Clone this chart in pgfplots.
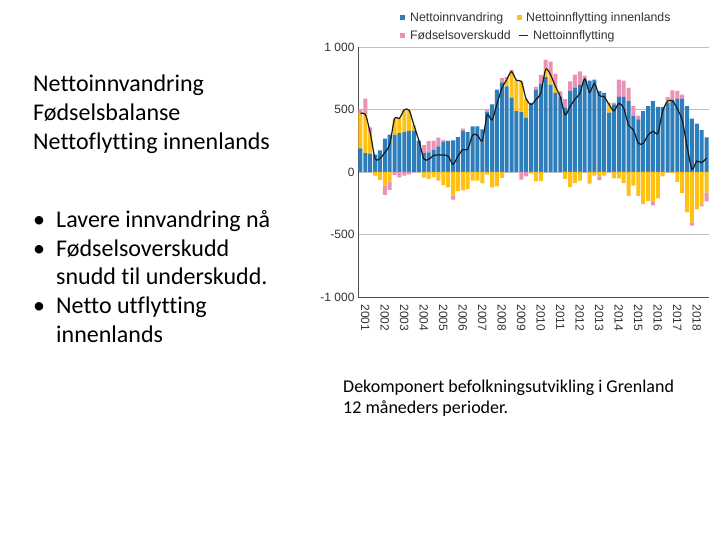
\documentclass[border=0pt]{standalone}
\usepackage{pgfplots}
\pgfplotsset{compat=1.18}
\usepackage{pgfplotstable}
\usepackage{fontspec}
\setmainfont{Carlito}[Ligatures=NoCommon]
\newfontfamily\chartfont{Liberation Sans}
\definecolor{cblue}{RGB}{46,126,188}
\definecolor{cyellow}{RGB}{255,194,20}
\definecolor{cpink}{RGB}{234,146,182}
\definecolor{cgrid}{RGB}{192,192,192}

\pgfplotstableread{
x B Yp Pp Yn Pn L
0 188 280 35 0 0 468
1 151 310 125 0 0 461
2 146 170 40 0 0 316
3 138 0 0 -30 0 108
4 173 0 0 -65 0 108
5 266 0 0 -110 -73 156
6 298 0 0 -78 -65 220
7 296 130 0 0 -24 426
8 310 119 0 0 -43 429
9 320 178 0 0 -30 498
10 328 165 0 0 -19 493
11 330 40 0 0 0 370
12 250 0 0 0 0 250
13 150 0 65 -45 0 105
14 156 0 90 -55 0 101
15 175 0 75 -42 0 133
16 205 0 70 -70 0 135
17 242 0 15 -106 0 136
18 249 0 0 -123 0 126
19 252 0 0 -190 -32 62
20 279 0 0 -153 0 126
21 328 0 18 -148 0 180
22 318 0 0 -138 0 180
23 365 0 0 -70 0 295
24 365 0 0 -70 0 295
25 341 0 0 -91 0 250
26 479 0 18 -22 0 457
27 540 0 0 -124 0 416
28 659 0 0 -116 0 543
29 717 0 34 -48 0 669
30 685 53 25 0 0 738
31 593 211 13 0 0 804
32 487 246 0 0 0 733
33 479 246 0 0 -62 725
34 434 150 0 0 -35 584
35 553 0 0 -13 0 540
36 654 0 26 -75 0 579
37 706 0 68 -72 0 634
38 759 63 74 0 0 822
39 698 79 106 0 0 777
40 632 53 100 0 0 685
41 600 0 45 0 0 600
42 513 0 70 -56 0 457
43 646 0 79 -122 0 524
44 672 0 106 -89 0 583
45 698 0 106 -70 0 628
46 745 0 25 0 0 745
47 730 0 0 -93 0 637
48 738 0 0 -30 0 708
49 646 0 0 -35 -30 611
50 632 0 0 -30 0 602
51 474 66 13 0 0 540
52 540 0 15 -51 0 489
53 600 0 138 -51 0 549
54 600 0 130 -89 0 511
55 566 0 106 -191 0 375
56 447 0 80 -110 0 337
57 421 0 30 -191 0 230
58 487 0 0 -258 0 229
59 527 0 0 -233 0 294
60 566 0 0 -240 -28 326
61 521 0 0 -211 0 310
62 521 0 0 -35 0 486
63 553 13 32 0 0 566
64 579 0 74 -10 0 569
65 585 0 64 -80 0 505
66 585 0 34 -170 0 415
67 527 0 0 -323 0 204
68 426 0 0 -403 -27 23
69 386 0 0 -299 0 87
70 335 0 0 -260 -15 75
71 277 0 0 -165 -70 112
}\data

\pgfplotsset{base/.style={at={(358pt,243pt)}, anchor=south west, scale only axis,
  width=351pt, height=250pt, xmin=-0.5, xmax=71.5, ymin=-1000, ymax=1000}}

\begin{document}
\begin{tikzpicture}
\path[use as bounding box] (0,0) rectangle (720pt,540pt);
\fill[white] (0,0) rectangle (720pt,540pt);

% left slide text
\begin{scope}[every node/.style={anchor=base west, inner sep=0pt, font=\fontsize{24}{29}\selectfont}]
\node at (33pt,448pt) {Nettoinnvandring};
\node at (33pt,419pt) {Fødselsbalanse};
\node at (33pt,390pt) {Nettoflytting innenlands};
\node at (33pt,312pt) {•};
\node at (56pt,312pt) {Lavere innvandring nå};
\node at (33pt,283pt) {•};
\node at (56pt,283pt) {Fødselsoverskudd};
\node at (56pt,255pt) {snudd til underskudd.};
\node at (33pt,226pt) {•};
\node at (56pt,226pt) {Netto utflytting};
\node at (56pt,197pt) {innenlands};
\end{scope}
\begin{scope}[every node/.style={anchor=base west, inner sep=0pt, font=\fontsize{18}{21}\selectfont}]
\node at (343pt,147pt) {Dekomponert befolkningsutvikling i Grenland};
\node at (343pt,126pt) {12 måneders perioder.};
\end{scope}

% legend
\begin{scope}[every node/.style={anchor=base west, inner sep=0pt, text=black!80, font=\chartfont\fontsize{12.3}{14}\selectfont}]
\fill[cblue] (399.5pt,519.5pt) rectangle (404.5pt,524.5pt);
\node at (410pt,518pt) {Nettoinnvandring};
\fill[cyellow] (516.5pt,519.5pt) rectangle (521.5pt,524.5pt);
\node at (526pt,518pt) {Nettoinnflytting innenlands};
\fill[cpink] (399.5pt,501.5pt) rectangle (404.5pt,506.5pt);
\node at (410pt,500pt) {Fødselsoverskudd};
\draw[black!85, line width=1pt] (519pt,504pt) -- (528pt,504pt);
\node at (533pt,500pt) {Nettoinnflytting};
\end{scope}

% axis frame, grid, labels
\begin{axis}[base,
  axis x line*=bottom, axis y line*=left,
  axis line style={black!70, line width=0.8pt},
  ytick={-1000,-500,0,500,1000},
  yticklabels={-1 000,-500,0,500,1 000},
  ymajorgrids, grid style={cgrid, line width=0.7pt},
  xtick={1,5,9,13,17,21,25,29,33,37,41,45,49,53,57,61,65,69},
  xticklabels={2001,2002,2003,2004,2005,2006,2007,2008,2009,2010,2011,2012,2013,2014,2015,2016,2017,2018},
  xticklabel style={rotate=-90, anchor=west, xshift=4pt, font=\chartfont\fontsize{12}{13}\selectfont, text=black!80},
  yticklabel style={font=\chartfont\fontsize{12}{13}\selectfont, text=black!80},
  major tick length=0pt,
]
\end{axis}

% positive stack
\begin{axis}[base, hide axis, ybar stacked, bar width=0.8]
\addplot[fill=cblue, draw=none] table[x=x,y=B]{\data};
\addplot[fill=cyellow, draw=none] table[x=x,y=Yp]{\data};
\addplot[fill=cpink, draw=none] table[x=x,y=Pp]{\data};
\end{axis}

% negative stack
\begin{axis}[base, hide axis, ybar stacked, bar width=0.8]
\addplot[fill=cyellow, draw=none] table[x=x,y=Yn]{\data};
\addplot[fill=cpink, draw=none] table[x=x,y=Pn]{\data};
\end{axis}

% net in-migration line
\begin{axis}[base, hide axis]
\addplot[black!90, line width=1.2pt, smooth, tension=0.45, no marks] table[x=x,y=L]{\data};
\end{axis}
\end{tikzpicture}
\end{document}
